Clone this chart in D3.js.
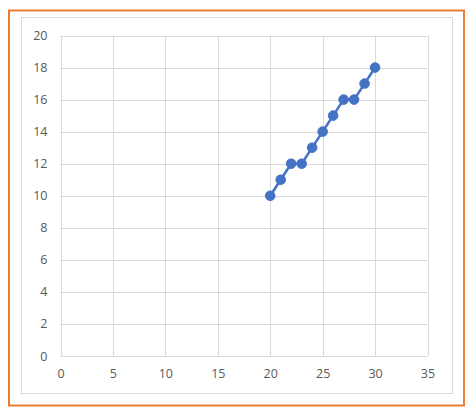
<!DOCTYPE html>
<html>
<head>
<meta charset="utf-8">
<script src="https://cdn.jsdelivr.net/npm/d3@7"></script>
<style>
  body { margin: 0; background: #fff; }
  svg text { font-family: "Open Sans", "Liberation Sans", sans-serif; }
</style>
</head>
<body>
<script>
var xValues = [20, 21, 22, 23, 24, 25, 26, 27, 28, 29, 30];
var yValues = [10, 11, 12, 12, 13, 14, 15, 16, 16, 17, 18];
var xTicks = [0, 5, 10, 15, 20, 25, 30, 35];
var yTicks = [0, 2, 4, 6, 8, 10, 12, 14, 16, 18, 20];

var w = 474;
var h = 416;
var plot = { left: 60.5, right: 427.5, top: 35.5, bottom: 356 };

var svg = d3.select("body")
    .append("svg")
    .attr("width", w)
    .attr("height", h);

// outer orange frame and grey chart frame
svg.append("rect")
    .attr("x", 9).attr("y", 10.5)
    .attr("width", 455).attr("height", 395)
    .attr("fill", "#fff")
    .attr("stroke", "#ED7D31")
    .attr("stroke-width", 2);

svg.append("rect")
    .attr("x", 21.5).attr("y", 17.5)
    .attr("width", 431).attr("height", 376)
    .attr("fill", "#fff")
    .attr("stroke", "#d9d9d9")
    .attr("stroke-width", 1);

var xScale = d3.scaleLinear().domain([0, 35]).range([plot.left, plot.right]);
var yScale = d3.scaleLinear().domain([0, 20]).range([plot.bottom, plot.top]);

// gridlines
svg.append("g")
    .selectAll("line.v")
    .data(xTicks)
    .enter()
    .append("line")
    .attr("x1", function(d) { return Math.round(xScale(d)) + 0.5; })
    .attr("x2", function(d) { return Math.round(xScale(d)) + 0.5; })
    .attr("y1", plot.top)
    .attr("y2", plot.bottom)
    .attr("stroke", "#d9d9d9");

svg.append("g")
    .selectAll("line.h")
    .data(yTicks)
    .enter()
    .append("line")
    .attr("x1", plot.left)
    .attr("x2", plot.right)
    .attr("y1", function(d) { return Math.round(yScale(d)) + 0.5; })
    .attr("y2", function(d) { return Math.round(yScale(d)) + 0.5; })
    .attr("stroke", "#d9d9d9");

// axes (labels only)
var xAxis = svg.append("g")
    .attr("transform", "translate(0," + plot.bottom + ")")
    .call(d3.axisBottom(xScale).tickValues(xTicks).tickSize(0).tickPadding(13));
xAxis.select(".domain").remove();
xAxis.selectAll("text").attr("fill", "#595959").attr("font-size", 12.5);

var yAxis = svg.append("g")
    .attr("transform", "translate(" + plot.left + ",0)")
    .call(d3.axisLeft(yScale).tickValues(yTicks).tickSize(0).tickPadding(13));
yAxis.select(".domain").remove();
yAxis.selectAll("text").attr("fill", "#595959").attr("font-size", 12.5);

// series
var points = xValues.map(function(x, i) { return [x, yValues[i]]; });

svg.append("path")
    .datum(points)
    .attr("fill", "none")
    .attr("stroke", "#4472C4")
    .attr("stroke-width", 2.5)
    .attr("stroke-linejoin", "round")
    .attr("d", d3.line()
        .x(function(d) { return xScale(d[0]); })
        .y(function(d) { return yScale(d[1]); }));

svg.selectAll("circle")
    .data(points)
    .enter()
    .append("circle")
    .attr("cx", function(d) { return xScale(d[0]); })
    .attr("cy", function(d) { return yScale(d[1]); })
    .attr("r", 4.8)
    .attr("fill", "#4472C4")
    .attr("stroke", "#4472C4")
    .attr("stroke-width", 1);
</script>
</body>
</html>
